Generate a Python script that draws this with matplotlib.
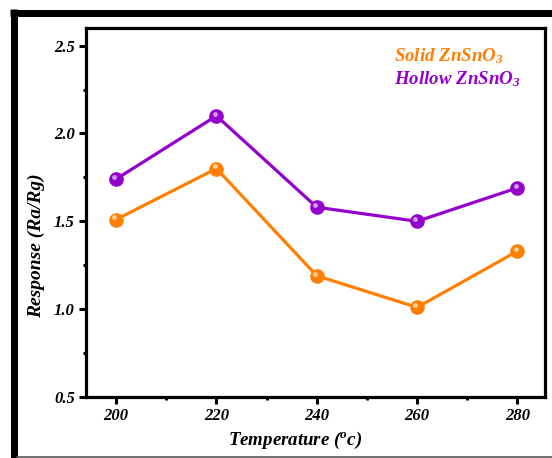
import numpy as np
import matplotlib.pyplot as plt
from matplotlib.lines import Line2D
from matplotlib.ticker import MultipleLocator

plt.rcParams['font.family'] = 'Liberation Serif'
plt.rcParams['mathtext.fontset'] = 'custom'
plt.rcParams['mathtext.rm'] = 'Liberation Serif:italic:bold'
plt.rcParams['mathtext.it'] = 'Liberation Serif:italic:bold'
plt.rcParams['mathtext.bf'] = 'Liberation Serif:italic:bold'

# Sensor response vs operating temperature
temperature = [200, 220, 240, 260, 280]
solid_resp = [1.51, 1.80, 1.19, 1.01, 1.33]
hollow_resp = [1.74, 2.10, 1.58, 1.50, 1.69]

labels = ['Solid ZnSnO$_3$', 'Hollow ZnSnO$_3$']
colors = ['#FF8000', '#9400CC']

W, H = 552, 458
fig = plt.figure(figsize=(W / 100, H / 100), dpi=100)

# outer black frame
fig.add_artist(Line2D([13.5 / W, 13.5 / W], [0, 1 - 9 / H], color='black',
                      lw=7 * 0.72, solid_capstyle='butt'))
fig.add_artist(Line2D([10 / W, 1], [1 - 12.5 / H, 1 - 12.5 / H], color='black',
                      lw=7 * 0.72, solid_capstyle='butt'))
fig.add_artist(Line2D([17 / W, 1], [1.5 / H, 1.5 / H], color='#555555', lw=1.2))

ax = fig.add_axes([86 / W, (H - 397) / H, (545 - 86) / W, (397 - 28) / H])

for y, c in zip([solid_resp, hollow_resp], colors):
    ax.plot(temperature, y, '-o', color=c, lw=2.3, ms=9.5, mec=c, mfc=c, zorder=3)
    # small highlight to give the markers a glossy look
    ax.plot(np.array(temperature) - 0.35, np.array(y) + 0.012, 'o', color='white',
            ms=3.5, alpha=0.6, mec='none', zorder=4)

ax.set_xlim(194, 285.5)
ax.set_ylim(0.5, 2.6)
ax.xaxis.set_major_locator(MultipleLocator(20))
ax.xaxis.set_minor_locator(MultipleLocator(10))
ax.yaxis.set_major_locator(MultipleLocator(0.5))
ax.yaxis.set_minor_locator(MultipleLocator(0.25))
ax.tick_params(which='major', direction='out', length=5, width=2.2,
               labelsize=12, pad=3)
ax.tick_params(which='minor', direction='out', length=2.5, width=2.2)
ax.tick_params(top=False, right=False)
ax.xaxis.set_major_formatter(plt.FuncFormatter(lambda v, p: f'{v:.0f}'))
ax.yaxis.set_major_formatter(plt.FuncFormatter(lambda v, p: f'{v:.1f}'))
for lab in ax.get_xticklabels() + ax.get_yticklabels():
    lab.set_fontweight('bold')
    lab.set_fontstyle('italic')

for s in ax.spines.values():
    s.set_linewidth(2.3)

ax.set_xlabel('Temperature ($^o$c)', fontsize=13.6, fontweight='bold',
              fontstyle='italic')
ax.set_ylabel('Response (Ra/Rg)', fontsize=14, fontweight='bold',
              fontstyle='italic')
ax.xaxis.set_label_coords(0.456, -0.09)
ax.yaxis.set_label_coords(-0.09, 0.41)

for i, (lab, c) in enumerate(zip(labels, colors)):
    ax.text(0.67, 0.925 - i * 0.063, lab, color=c, fontsize=13.6,
            fontweight='bold', fontstyle='italic', transform=ax.transAxes,
            va='center', ha='left')

fig.savefig('out.png', dpi=100)
